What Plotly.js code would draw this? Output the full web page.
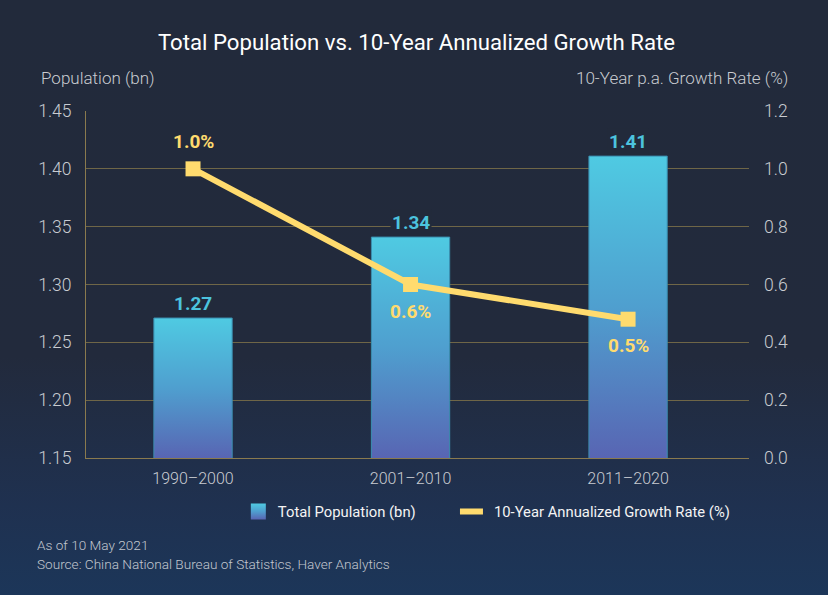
<!DOCTYPE html>
<html>
<head>
<meta charset="utf-8">
<script src="https://cdn.plot.ly/plotly-3.0.1.min.js"></script>
<style>
  html, body { margin: 0; padding: 0; }
  body { width: 828px; height: 595px; background: linear-gradient(to bottom, #222a3b 0%, #222a3c 60%, #1f3150 85%, #1c3659 100%); }
  #chart { width: 828px; height: 595px; }
</style>
</head>
<body>
<div id="chart"></div>
<script>
// ---- data ----
const periods = ["1990–2000", "2001–2010", "2011–2020"];
const population = [1.271, 1.341, 1.411];      // bn
const growthRate = [1.0, 0.6, 0.48];            // % p.a.
const popTicks = [1.15, 1.20, 1.25, 1.30, 1.35, 1.40, 1.45];
const rateTicks = [0.0, 0.2, 0.4, 0.6, 0.8, 1.0, 1.2];

const FONT = "Roboto, 'Noto Sans', sans-serif";
const BG = "#222a3b";
const GRID = "#6f6647";
const LINE = "#8a7a4e";
const CYAN = "#4cc3de";
const YELLOW = "#ffdb6e";
const TXT = "#c9ccd1";

const barTrace = {
  type: "bar",
  name: "Total Population (bn)",
  x: periods,
  y: population,
  width: 0.36,
  marker: { color: "#4fa6d2", line: { color: "#3b8fb0", width: 1 } },
  hoverinfo: "skip",
  yaxis: "y",
  legend: "legend"
};

const lineTrace = {
  type: "scatter",
  mode: "lines+markers",
  name: "10-Year Annualized Growth Rate (%)",
  x: periods,
  y: growthRate,
  yaxis: "y2",
  line: { color: YELLOW, width: 6 },
  marker: { symbol: "square", size: 15, color: YELLOW },
  hoverinfo: "skip",
  cliponaxis: false,
  legend: "legend2"
};

const annotations = population.map((v, i) => ({
  x: periods[i], y: v, xref: "x", yref: "y",
  text: "<b>" + v.toFixed(2) + "</b>",
  showarrow: false, yanchor: "bottom", yshift: 1,
  bgcolor: BG, borderpad: 1,
  font: { family: FONT, size: 19, color: CYAN }
}));

const rateShift = [27, -27, -26];
growthRate.forEach((v, i) => annotations.push({
  x: periods[i], y: v, xref: "x", yref: "y2",
  text: "<b>" + v.toFixed(1) + "%</b>",
  showarrow: false, yanchor: "middle", yshift: rateShift[i],
  font: { family: FONT, size: 19, color: YELLOW }
}));

annotations.push(
  { xref: "paper", yref: "paper", x: -0.071, y: 1.095, xanchor: "left", yanchor: "middle",
    text: "Population (bn)", showarrow: false, font: { family: FONT, size: 17, weight: 300, color: TXT } },
  { xref: "paper", yref: "paper", x: 1.062, y: 1.095, xanchor: "right", yanchor: "middle",
    text: "10-Year p.a. Growth Rate (%)", showarrow: false, font: { family: FONT, size: 17, weight: 300, color: TXT } },
  { xref: "paper", yref: "paper", x: -0.077, y: -0.25, xanchor: "left", yanchor: "middle",
    text: "As of 10 May 2021", showarrow: false, font: { family: FONT, size: 13.6, weight: 300, color: "#c2c7cf" } },
  { xref: "paper", yref: "paper", x: -0.077, y: -0.305, xanchor: "left", yanchor: "middle",
    text: "Source: China National Bureau of Statistics, Haver Analytics", showarrow: false, font: { family: FONT, size: 13.6, weight: 300, color: "#c2c7cf" } }
);

const legendBase = { orientation: "h", y: -0.155, xanchor: "left", yanchor: "middle",
  font: { family: FONT, size: 14.8, color: "#f4f4f4" }, itemclick: false, bgcolor: "rgba(0,0,0,0)" };

const layout = {
  width: 828, height: 595,
  paper_bgcolor: "rgba(0,0,0,0)",
  plot_bgcolor: "rgba(0,0,0,0)",
  margin: { l: 86, r: 79, t: 111, b: 137 },
  font: { family: FONT, color: TXT },
  title: { text: "Total Population vs. 10-Year Annualized Growth Rate", x: 0.503, xanchor: "center",
           y: 0.929, yanchor: "middle", font: { family: FONT, size: 22.2, color: "#ffffff" } },
  xaxis: { type: "category", range: [-0.492, 2.556], showgrid: false, showline: true, linecolor: LINE, linewidth: 1,
           ticks: "", ticklabelstandoff: 6, tickfont: { family: FONT, size: 16, weight: 300, color: TXT }, zeroline: false },
  yaxis: { range: [1.15, 1.45], tickvals: popTicks, ticktext: popTicks.map(v => v.toFixed(2)),
           showgrid: true, gridcolor: GRID, gridwidth: 1, showline: true, linecolor: LINE, linewidth: 1,
           zeroline: false, ticks: "", ticklabelstandoff: 10, tickfont: { family: FONT, size: 17.5, weight: 300, color: TXT } },
  yaxis2: { overlaying: "y", side: "right", range: [0, 1.2], tickvals: rateTicks, ticktext: rateTicks.map(v => v.toFixed(1)),
            showgrid: false, showline: false, zeroline: false, ticks: "", ticklabelstandoff: 14,
            tickfont: { family: FONT, size: 17.5, weight: 300, color: TXT } },
  showlegend: true,
  legend: Object.assign({}, legendBase, { x: 0.229 }),
  legend2: Object.assign({}, legendBase, { x: 0.555 }),
  annotations: annotations,
  bargap: 0
};

Plotly.newPlot("chart", [barTrace, lineTrace], layout, { displayModeBar: false, staticPlot: true }).then(gd => {
  const svg = gd.querySelector("svg.main-svg");
  const ns = "http://www.w3.org/2000/svg";
  let defs = svg.querySelector("defs");
  if (!defs) { defs = document.createElementNS(ns, "defs"); svg.insertBefore(defs, svg.firstChild); }
  const stops = [["0%", "#4fcae2"], ["50%", "#4f9fcf"], ["100%", "#5865b3"]];
  function makeGrad(id, attrs) {
    const g = document.createElementNS(ns, "linearGradient");
    g.setAttribute("id", id);
    Object.entries(attrs).forEach(([k, v]) => g.setAttribute(k, v));
    stops.forEach(([o, c]) => {
      const s = document.createElementNS(ns, "stop");
      s.setAttribute("offset", o); s.setAttribute("stop-color", c);
      g.appendChild(s);
    });
    defs.appendChild(g);
  }
  const plotH = gd._fullLayout.yaxis._length;
  gd.querySelectorAll(".barlayer .point path").forEach((p, i) => {
    const bb = p.getBBox();
    const id = "barGrad" + i;
    makeGrad(id, { gradientUnits: "userSpaceOnUse", x1: 0, y1: bb.y, x2: 0, y2: plotH });
    p.style.fill = "url(#" + id + ")";
  });
  makeGrad("legGrad", { x1: 0, y1: 0, x2: 0, y2: 1 });
  const legs = gd.querySelectorAll(".infolayer > g[class^='legend']");
  legs.forEach(lg => {
    lg.querySelectorAll(".traces").forEach(tr => {
      const hasLine = tr.querySelector(".legendlines path");
      if (hasLine) {
        tr.querySelectorAll(".legendpoints path").forEach(p => { p.style.display = "none"; });
        tr.querySelectorAll(".legendlines path").forEach(p => { p.setAttribute("d", "M6,0h23"); });
      } else {
        tr.querySelectorAll(".legendpoints path").forEach(p => {
          p.style.fill = "url(#legGrad)";
          p.style.stroke = "none";
          p.setAttribute("d", "M-7,8V-8H8V8Z");
        });
      }
    });
  });
});
</script>
</body>
</html>
